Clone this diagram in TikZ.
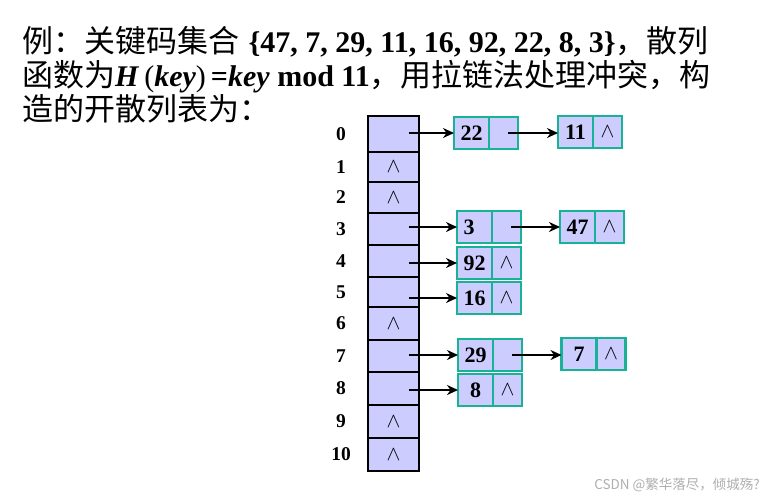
\documentclass[tikz,border=0pt]{standalone}
\usepackage{fontspec}
\setmainfont{Liberation Serif}
\newfontfamily\cjk{Noto Sans CJK SC}[Scale=1.033]
\newfontfamily\wmfont{Noto Sans CJK SC}
\usetikzlibrary{arrows.meta,calc}
\definecolor{cellfill}{RGB}{204,204,255}
\definecolor{boxline}{RGB}{24,178,150}
\definecolor{wmgray}{RGB}{175,175,175}
\begin{document}
\begin{tikzpicture}[x=1pt,y=-1pt,
  slot/.style={draw=black,line width=2.8pt,fill=cellfill,minimum width=51pt,inner sep=0pt,outer sep=0pt,font=\fontsize{22}{22}\selectfont},
  keycell/.style={draw=boxline,line width=2.6pt,fill=cellfill,minimum width=35pt,minimum height=32pt,inner sep=0pt,outer sep=0pt,font=\fontsize{22}{22}\selectfont\bfseries},
  ptrcell/.style={draw=boxline,line width=2.6pt,fill=cellfill,minimum width=29pt,minimum height=32pt,inner sep=0pt,outer sep=0pt,font=\fontsize{22}{22}\selectfont},
  idx/.style={font=\fontsize{19.5}{19.5}\selectfont\bfseries,inner sep=0pt},
  link/.style={-{Stealth[length=11pt,width=10pt]},line width=1.8pt},
  textline/.style={anchor=base west,inner sep=0pt,font=\fontsize{30}{30}\selectfont}
]
\fill[white] (0,0) rectangle (780,496);
\useasboundingbox (0,0) rectangle (780,496);

% text
\node[textline] (line1) at (22,52) {{\cjk 例：关键码集合}\hspace{2pt} \textbf{\{47, 7, 29, 11, 16, 92, 22, 8, 3\}}{\cjk ，散列}};
\node[textline] (line2) at (22,86) {{\cjk 函数为}\textbf{\textit{H}\,\textnormal{(}\textit{key}\textnormal{)}\,=\textit{key} mod 11}{\cjk ，用拉链法处理冲突，构}};
\node[textline] (line3) at (22,120) {{\cjk 造的开散列表为：}};

% hash table
\foreach \i/\t/\b/\c in {0/116/152/{}, 1/152/182/$\wedge$, 2/182/213/$\wedge$, 3/213/245/{}, 4/245/277/{}, 5/277/307/{}, 6/307/340/$\wedge$, 7/340/372/{}, 8/372/405/{}, 9/405/438/$\wedge$, 10/438/471/$\wedge$}{
  \node[slot,minimum height={\b-\t}] (t\i) at (393.5,{(\t+\b)/2}) {\c};
  \node[idx] (l\i) at (341,{(\t+\b)/2}) {\i};
}

% chain elements
\node[keycell] (k22) at (471.5,133) {22};
\node[ptrcell,anchor=west] (p22) at (k22.east) {};
\node[keycell] (k11) at (575.5,132) {11};
\node[ptrcell,anchor=west] (p11) at (k11.east) {$\wedge$};

\node[keycell] (k3) at (474.5,227) {\makebox[22pt][l]{3}};
\node[ptrcell,anchor=west] (p3) at (k3.east) {};
\node[keycell] (k47) at (577.5,227) {47};
\node[ptrcell,anchor=west] (p47) at (k47.east) {$\wedge$};

\node[keycell] (k92) at (474.5,263) {92};
\node[ptrcell,anchor=west] (p92) at (k92.east) {$\wedge$};

\node[keycell] (k16) at (474.5,298) {16};
\node[ptrcell,anchor=west] (p16) at (k16.east) {$\wedge$};

\node[keycell] (k29) at (475.5,355) {29};
\node[ptrcell,anchor=west] (p29) at (k29.east) {};
\node[keycell] (k7) at (579,354) {7};
\node[ptrcell,anchor=west] (p7) at (k7.east) {$\wedge$};

\node[keycell] (k8) at (475.5,390) {8};
\node[ptrcell,anchor=west] (p8) at (k8.east) {$\wedge$};

% links from table
\foreach \r/\k in {0/22, 3/3, 4/92, 5/16, 7/29, 8/8}{
  \draw[link] ($(t\r.center |- k\k.west)+(15,0)$) -- (k\k.west);
}
% links along chains
\draw[link] ($(p22.center)+(4.5,0)$) -- (k11.west |- p22.center);
\draw[link] ($(p3.center)+(4.5,0)$) -- (k47.west |- p3.center);
\draw[link] ($(p29.center)+(4.5,0)$) -- (k7.west |- p29.center);

% watermark
\node[anchor=base east,inner sep=0pt,text=wmgray,font=\fontsize{13.5}{13.5}\selectfont] (wm) at (760,489) {\wmfont CSDN @繁华落尽，倾城殇?};
\end{tikzpicture}
\end{document}
